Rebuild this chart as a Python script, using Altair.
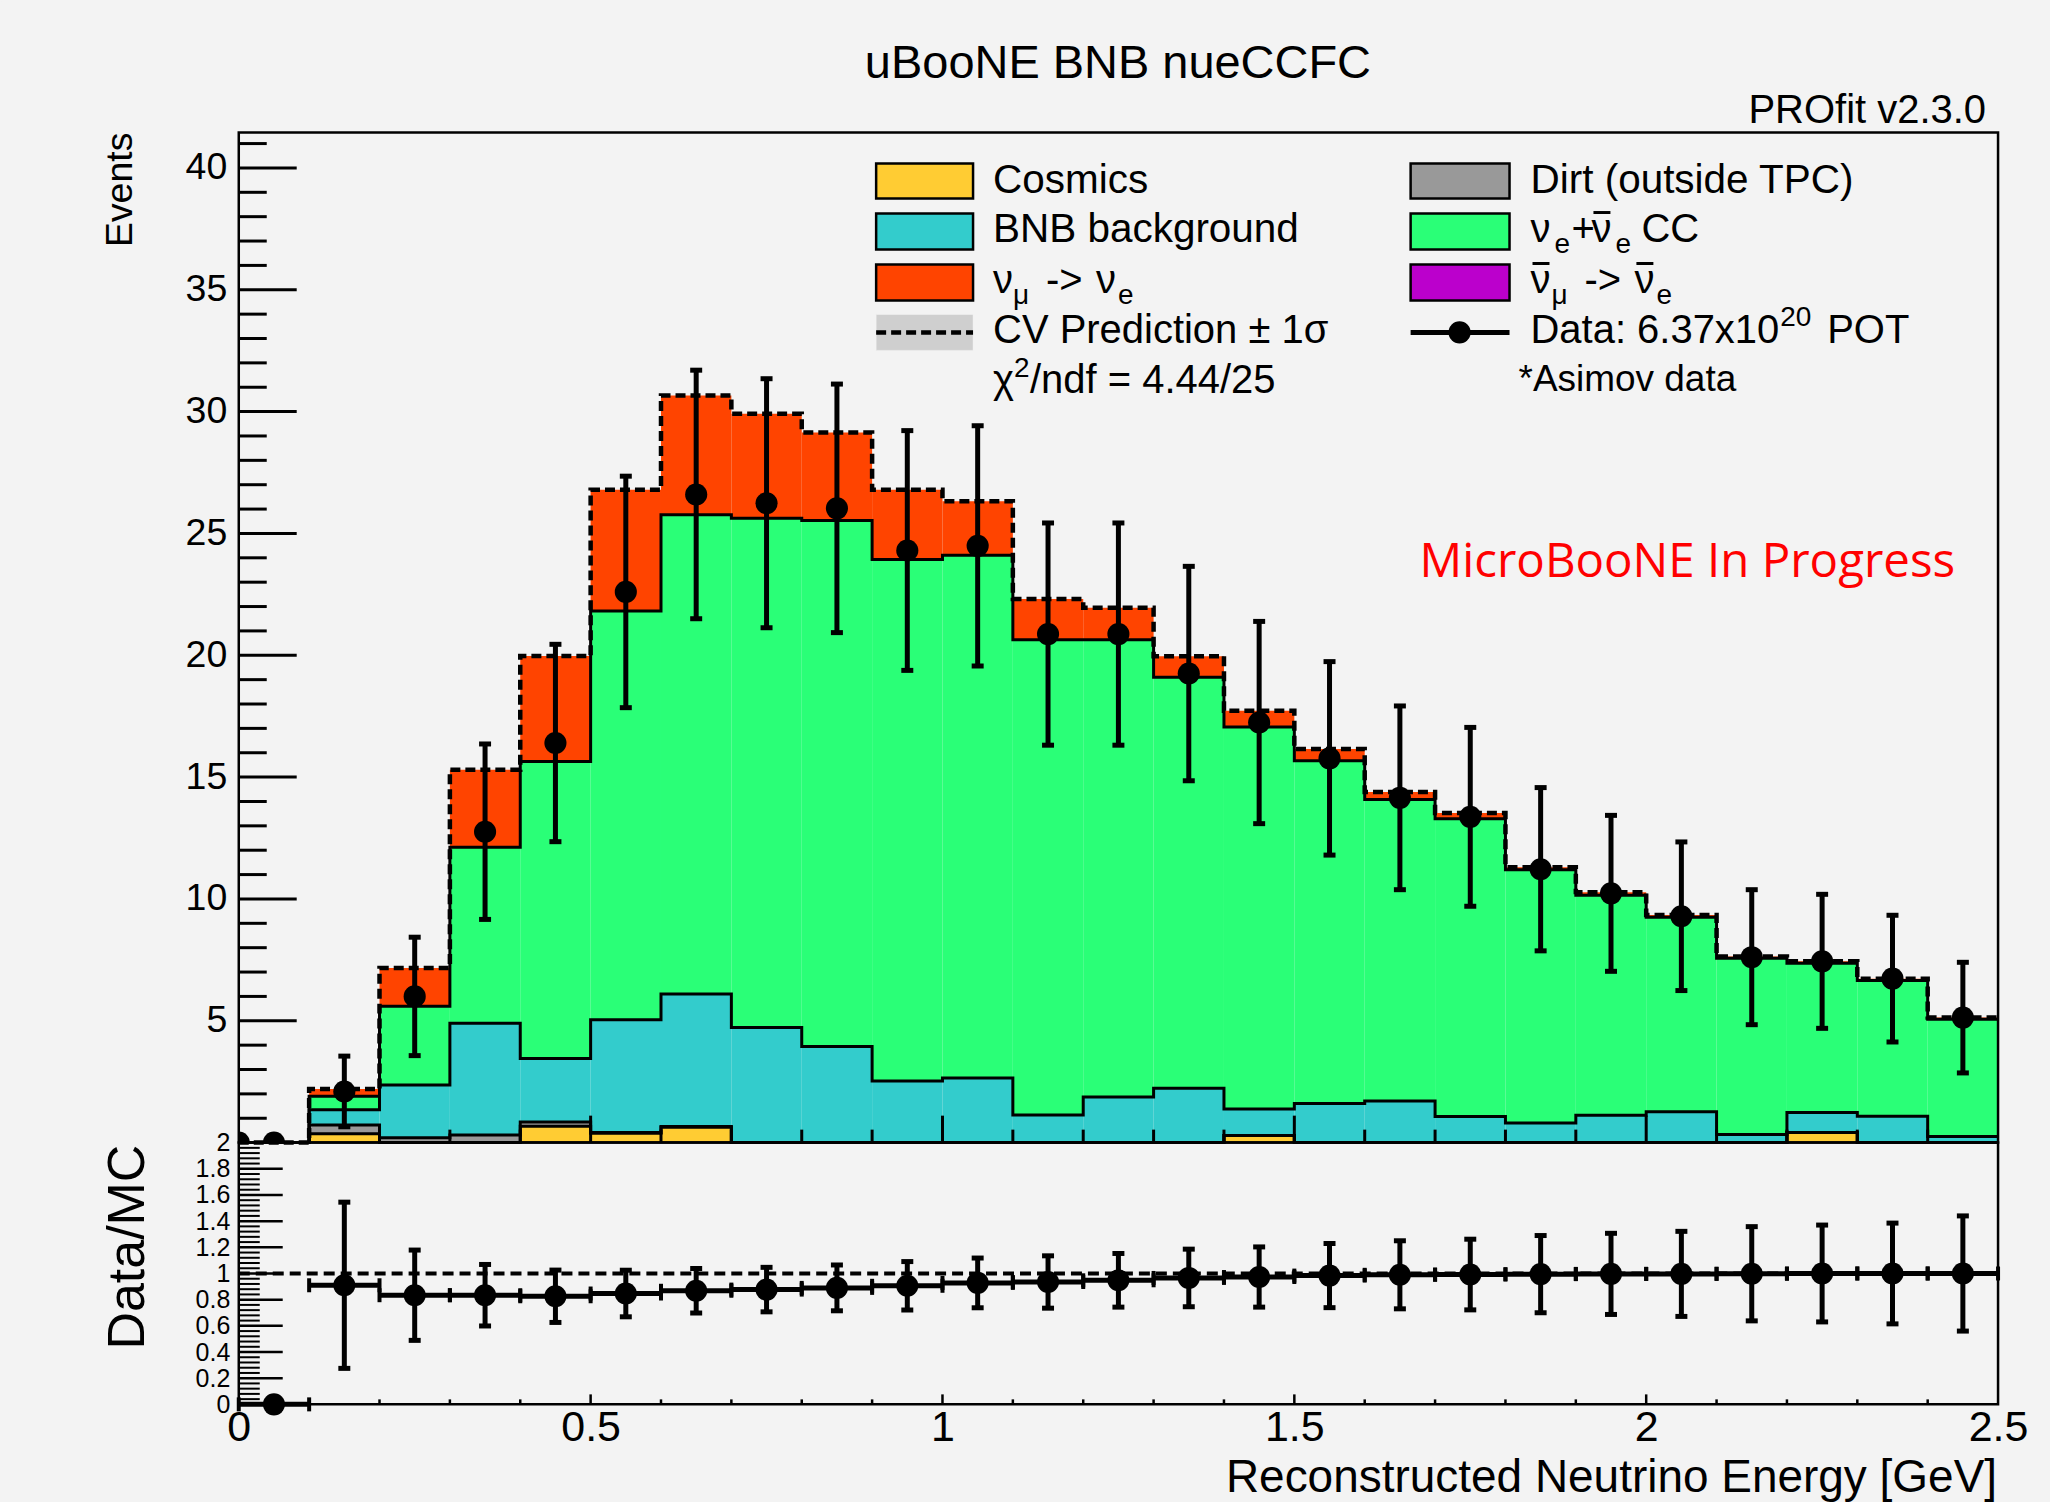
import altair as alt
import pandas as pd

FONT = "Liberation Sans"
NARROW = "Liberation Sans Narrow, Liberation Sans, sans-serif"
BG = "#f3f3f3"

# ---------------- data ----------------
bin_lo = [round(0.1 * i, 1) for i in range(25)]
bin_hi = [round(0.1 * (i + 1), 1) for i in range(25)]
bin_center = [round(0.1 * i + 0.05, 2) for i in range(25)]

cosmics = [0.0, 0.36, 0.0, 0.0, 0.67, 0.38, 0.63, 0.0, 0.0, 0.0, 0.0, 0.0, 0.0, 0.0,
           0.29, 0.0, 0.0, 0.0, 0.0, 0.0, 0.0, 0.0, 0.42, 0.0, 0.0]
dirt = [0.0, 0.36, 0.2, 0.31, 0.18, 0.04, 0.03, 0.0, 0.0, 0.0, 0.0, 0.0, 0.0, 0.0,
        0.0, 0.0, 0.0, 0.0, 0.0, 0.0, 0.0, 0.0, 0.0, 0.0, 0.0]
bnb_bkg = [0.0, 0.63, 2.16, 4.59, 2.6, 4.62, 5.44, 4.72, 3.94, 2.53, 2.65, 1.13, 1.87,
           2.23, 1.09, 1.61, 1.71, 1.07, 0.81, 1.12, 1.27, 0.33, 0.82, 1.08, 0.25]
nue_cc = [0.0, 0.55, 3.24, 7.22, 12.19, 16.78, 19.67, 20.9, 21.59, 21.4, 21.46, 19.51,
          18.77, 16.87, 15.68, 14.06, 12.37, 12.22, 10.39, 9.03, 7.98, 7.24, 6.12, 5.57, 4.81]
numu_nue = [0.0, 0.3, 1.57, 3.18, 4.33, 4.97, 4.89, 4.29, 3.61, 2.86, 2.21, 1.67, 1.31,
            0.86, 0.66, 0.48, 0.31, 0.24, 0.1, 0.13, 0.09, 0.07, 0.08, 0.08, 0.07]
numubar_nuebar = [0.0] * 25

data_vals = [0.0, 2.1, 6.0, 12.76, 16.4, 22.6, 26.6, 26.24, 26.03, 24.3, 24.49, 20.87,
             20.87, 19.25, 17.24, 15.77, 14.15, 13.37, 11.22, 10.23, 9.29, 7.61, 7.44, 6.73, 5.13]
data_err = [0.0, 1.45, 2.43, 3.6, 4.05, 4.75, 5.1, 5.11, 5.1, 4.92, 4.93, 4.56, 4.56,
            4.4, 4.15, 3.97, 3.77, 3.67, 3.35, 3.2, 3.05, 2.77, 2.75, 2.6, 2.27]
extra_point_x = [0.0]
extra_point_y = [0.0]

ratio_vals = [0.0, 0.91, 0.834, 0.834, 0.826, 0.847, 0.868, 0.877, 0.89, 0.906, 0.928,
              0.935, 0.948, 0.966, 0.973, 0.984, 0.99, 0.992, 0.995, 0.997, 0.997, 0.998,
              1.0, 1.0, 1.0]
ratio_err = [0.0, 0.635, 0.345, 0.235, 0.2, 0.178, 0.17, 0.17, 0.175, 0.185, 0.19, 0.2,
             0.205, 0.22, 0.23, 0.245, 0.26, 0.27, 0.295, 0.31, 0.325, 0.36, 0.37, 0.385, 0.44]

main_y_labels = [5, 10, 15, 20, 25, 30, 35, 40]
ratio_y_labels = [0, 0.2, 0.4, 0.6, 0.8, 1, 1.2, 1.4, 1.6, 1.8, 2]
x_labels = [0, 0.5, 1, 1.5, 2, 2.5]

comp_names = ["Cosmics", "Dirt (outside TPC)", "BNB background", "nue CC",
              "numu->nue", "numubar->nuebar"]
comp_colors = ["#ffcc33", "#999999", "#33cccc", "#2aff77", "#ff4400", "#bb00cc"]
series = [cosmics, dirt, bnb_bkg, nue_cc, numu_nue, numubar_nuebar]

# ---------------- tables ----------------
rect_rows, step_rows = [], []
cum = [0.0] * 25
tops = {}
for name, vals in zip(comp_names, series):
    new = [c + v for c, v in zip(cum, vals)]
    for i in range(25):
        if vals[i] > 0:
            rect_rows.append(dict(comp=name, x=bin_lo[i], x2=bin_hi[i], y=cum[i], y2=new[i]))
    tops[name] = new
    cum = new
stack_df = pd.DataFrame(rect_rows)
edges = bin_lo + [2.5]
for name in comp_names[:4]:
    t = tops[name]
    for i, e in enumerate(edges):
        step_rows.append(dict(comp=name, x=e, y=t[min(i, 24)]))
step_df = pd.DataFrame(step_rows)
total = cum
total_df = pd.DataFrame({"x": edges, "y": [total[min(i, 24)] for i in range(26)]})

data_df = pd.DataFrame({"x": bin_center, "y": data_vals,
                        "lo": [v - e for v, e in zip(data_vals, data_err)],
                        "hi": [v + e for v, e in zip(data_vals, data_err)],
                        "err": data_err})
err_df = data_df[data_df["err"] > 0]
dots_df = pd.concat([data_df[["x", "y"]],
                     pd.DataFrame({"x": extra_point_x, "y": extra_point_y})])

ratio_df = pd.DataFrame({"x": bin_center, "lo": bin_lo, "hi": bin_hi, "r": ratio_vals,
                         "rlo": [v - e for v, e in zip(ratio_vals, ratio_err)],
                         "rhi": [v + e for v, e in zip(ratio_vals, ratio_err)],
                         "err": ratio_err})
ratio_err_df = ratio_df[ratio_df["err"] > 0]
edge_df = pd.DataFrame({"x": bin_lo + bin_hi, "r": ratio_vals + ratio_vals})
unity_df = pd.DataFrame({"x": [0.0], "x2": [2.5], "y": [1.0]})

main_minor_y = [v for v in range(1, 42) if v % 5 != 0]
main_major_y = main_y_labels
x_minor = [round(0.1 * k, 1) for k in range(1, 25) if k % 5 != 0]
x_major = [0.5, 1.0, 1.5, 2.0]
r_minor = [round(0.04 * k, 2) for k in range(1, 50) if k % 5 != 0]
r_major = [0.2, 0.4, 0.6, 0.8, 1.0, 1.2, 1.4, 1.6, 1.8]

W, H_MAIN, H_RATIO = 1761, 1011, 262

xs = alt.Scale(domain=[0, 2.5], nice=False, zero=False)
ys = alt.Scale(domain=[0, 41.45], nice=False, zero=False)
rs = alt.Scale(domain=[0, 2], nice=False, zero=False)

# axes (the same object is given to every layer that uses the scale)
AX_MAIN_X = None
AX_MAIN_Y = alt.Axis(values=main_y_labels, ticks=False, tickSize=0, domain=False,
                     grid=False, title=None, labelFont=FONT, labelFontSize=37.5,
                     labelPadding=12, labelColor="black", labelOverlap=False)
AX_RATIO_X = alt.Axis(values=x_labels, format="~g", ticks=False, tickSize=0,
                      domain=False, grid=False, title=None, labelFont=FONT,
                      labelFontSize=43, labelBaseline="alphabetic", labelPadding=36,
                      labelFlush=False, labelOverlap=False, labelColor="black")
AX_RATIO_Y = alt.Axis(values=ratio_y_labels, format="~g", ticks=False, tickSize=0,
                      domain=False, grid=False, title=None, labelFont=NARROW,
                      labelFontSize=25, labelPadding=9, labelOverlap=False,
                      labelColor="black")


def MX(f):
    return alt.X(f, scale=xs, axis=AX_MAIN_X)


def MY(f):
    return alt.Y(f, scale=ys, axis=AX_MAIN_Y)


def RX(f):
    return alt.X(f, scale=xs, axis=AX_RATIO_X)


def RY(f):
    return alt.Y(f, scale=rs, axis=AX_RATIO_Y)


one = pd.DataFrame({"k": [0]})


def label(text, x, y, size=40, align="left", baseline="alphabetic", angle=0,
          color="black", font=FONT):
    return alt.Chart(one).mark_text(text=text, align=align, baseline=baseline,
                                    fontSize=size, angle=angle, color=color,
                                    font=font).encode(x=alt.value(x), y=alt.value(y))


def box(x, x2, y, y2, fill, stroke="black", sw=2.5, opacity=1.0):
    return alt.Chart(one).mark_rect(fill=fill, stroke=stroke, strokeWidth=sw,
                                    fillOpacity=opacity).encode(
        x=alt.value(x), x2=alt.value(x2), y=alt.value(y), y2=alt.value(y2))


def seg(x, x2, y, y2, sw=3, dash=None, color="black"):
    kw = dict(color=color, strokeWidth=sw)
    if dash:
        kw["strokeDash"] = dash
    return alt.Chart(one).mark_rule(**kw).encode(
        x=alt.value(x), x2=alt.value(x2), y=alt.value(y), y2=alt.value(y2))


def ytick_rules(values, yenc, length, sw=3):
    df = pd.DataFrame({"t": values})
    return alt.Chart(df).mark_rule(color="black", strokeWidth=sw).encode(
        y=yenc("t:Q"), x=alt.value(0), x2=alt.value(length))


def xtick_rules(values, xenc, length, base, sw=3):
    df = pd.DataFrame({"t": values})
    return alt.Chart(df).mark_rule(color="black", strokeWidth=sw).encode(
        x=xenc("t:Q"), y=alt.value(base), y2=alt.value(base - length))


# ---------------- main panel ----------------
stack = alt.Chart(stack_df).mark_rect().encode(
    x=MX("x:Q"), x2="x2:Q", y=MY("y:Q"), y2="y2:Q",
    color=alt.Color("comp:N", scale=alt.Scale(domain=comp_names, range=comp_colors),
                    legend=None))

outlines = alt.Chart(step_df).mark_line(interpolate="step-after", color="black",
                                        strokeWidth=3).encode(
    x=MX("x:Q"), y=MY("y:Q"), detail="comp:N")

cv_line = alt.Chart(total_df).mark_line(interpolate="step-after", color="black",
                                        strokeWidth=4.5, strokeDash=[10, 5]).encode(
    x=MX("x:Q"), y=MY("y:Q"))

err_rules = alt.Chart(err_df).mark_rule(color="black", strokeWidth=5).encode(
    x=MX("x:Q"), y=MY("lo:Q"), y2="hi:Q")
cap_lo = alt.Chart(err_df).mark_tick(orient="horizontal", size=12, thickness=5,
                                     color="black", opacity=1).encode(
    x=MX("x:Q"), y=MY("lo:Q"))
cap_hi = alt.Chart(err_df).mark_tick(orient="horizontal", size=12, thickness=5,
                                     color="black", opacity=1).encode(
    x=MX("x:Q"), y=MY("hi:Q"))
dots = alt.Chart(dots_df).mark_circle(size=490, color="black", opacity=1,
                                      clip=True).encode(x=MX("x:Q"), y=MY("y:Q"))

main_layers = [
    stack,
    seg(-238, -237, -131, -130, sw=1, color=BG),  # page anchor
    outlines, cv_line,
    ytick_rules(main_minor_y, MY, 28),
    ytick_rules(main_major_y, MY, 58),
    xtick_rules(x_minor, MX, 13, H_MAIN),
    xtick_rules(x_major, MX, 27, H_MAIN),
    err_rules, cap_lo, cap_hi, dots,
    box(0, W, 0, H_MAIN, "white", sw=2.5, opacity=0.0),
    # titles
    label("uBooNE BNB nueCCFC", 880, -55, size=47, align="center"),
    label("PROfit v2.3.0", 1749, -10, size=40, align="right"),
    label("Events", -118, 0, size=37.5, align="right", baseline="middle", angle=270),
    label("MicroBooNE In Progress", 1182, 445, size=47.5, color="#ff0000",
          font="Open Sans"),
    # legend swatches
    box(638, 735, 31, 66, comp_colors[0]),
    box(1173, 1272, 31, 66, comp_colors[1]),
    box(638, 735, 81, 117, comp_colors[2]),
    box(1173, 1272, 81, 117, comp_colors[3]),
    box(638, 735, 132, 168, comp_colors[4]),
    box(1173, 1272, 132, 168, comp_colors[5]),
    box(638, 735, 182, 218, "#cfcfcf", stroke=BG, sw=0.5),
    seg(638, 735, 200, 200, sw=4.5, dash=[10, 5]),
    seg(1173, 1272, 200, 200, sw=5),
    alt.Chart(one).mark_circle(size=490, color="black", opacity=1).encode(
        x=alt.value(1222), y=alt.value(200)),
    # legend texts
    label("Cosmics", 755, 60, size=40.5),
    label("Dirt (outside TPC)", 1293, 60, size=40.5),
    label("BNB background", 755, 110, size=40.5),
    label("ν", 1293, 110), label("e", 1317, 121, size=28), label("+", 1334, 110),
    label("ν", 1354, 110), seg(1356, 1373, 80, 80, sw=3),
    label("e", 1378, 121, size=28), label("CC", 1404, 110),
    label("ν", 755, 161), label("μ", 775, 172, size=28), label("->", 808, 161),
    label("ν", 858, 161), label("e", 880, 172, size=28),
    label("ν", 1293, 161), seg(1295, 1312, 131, 131, sw=3),
    label("μ", 1314, 172, size=28), label("->", 1347, 161),
    label("ν", 1397, 161), seg(1399, 1416, 131, 131, sw=3),
    label("e", 1419, 172, size=28),
    label("CV Prediction ± 1σ", 755, 211),
    label("Data: 6.37x10", 1293, 211), label("20", 1543, 194, size=28),
    label("POT", 1590, 211),
    label("χ", 755, 261), label("2", 776, 245, size=28),
    label("/ndf = 4.44/25", 792, 261),
    label("*Asimov data", 1281, 259, size=37),
]
main = alt.layer(*main_layers).properties(width=W, height=H_MAIN)

# ---------------- ratio panel ----------------
unity = alt.Chart(unity_df).mark_rule(color="black", strokeWidth=4,
                                      strokeDash=[11, 6]).encode(
    x=RX("x:Q"), x2="x2:Q", y=RY("y:Q"))
hbars = alt.Chart(ratio_df).mark_rule(color="black", strokeWidth=5).encode(
    x=RX("lo:Q"), x2="hi:Q", y=RY("r:Q"))
hcaps = alt.Chart(edge_df).mark_tick(orient="vertical", size=14, thickness=4,
                                     color="black", opacity=1).encode(
    x=RX("x:Q"), y=RY("r:Q"))
vbars = alt.Chart(ratio_err_df).mark_rule(color="black", strokeWidth=5).encode(
    x=RX("x:Q"), y=RY("rlo:Q"), y2="rhi:Q")
vcap_lo = alt.Chart(ratio_err_df).mark_tick(orient="horizontal", size=12, thickness=5,
                                            color="black", opacity=1).encode(
    x=RX("x:Q"), y=RY("rlo:Q"))
vcap_hi = alt.Chart(ratio_err_df).mark_tick(orient="horizontal", size=12, thickness=5,
                                            color="black", opacity=1).encode(
    x=RX("x:Q"), y=RY("rhi:Q"))
rdots = alt.Chart(ratio_df).mark_circle(size=490, color="black", opacity=1).encode(
    x=RX("x:Q"), y=RY("r:Q"))

ratio_layers = [
    unity,
    ytick_rules(r_minor, RY, 21, sw=2),
    ytick_rules(r_major, RY, 44, sw=2.5),
    xtick_rules(x_minor, RX, 5, H_RATIO, sw=2.5),
    xtick_rules(x_major, RX, 10, H_RATIO, sw=2.5),
    hbars, hcaps, vbars, vcap_lo, vcap_hi, rdots,
    box(0, W, 0, H_RATIO, "white", sw=2.5, opacity=0.0),
    label("Data/MC", -111, 2, size=52, align="right", baseline="middle", angle=270),
    label("Reconstructed Neutrino Energy [GeV]", 1760, 350, size=46, align="right"),
    seg(1811, 1812, 359, 360, sw=1, color=BG),  # page anchor
]
ratio = alt.layer(*ratio_layers).properties(width=W, height=H_RATIO)

chart = alt.vconcat(main, ratio, spacing=0, bounds="flush").properties(
    padding=0, background=BG).configure_view(strokeWidth=0)

chart.save("out.html", embed_options={"renderer": "svg", "actions": False})
